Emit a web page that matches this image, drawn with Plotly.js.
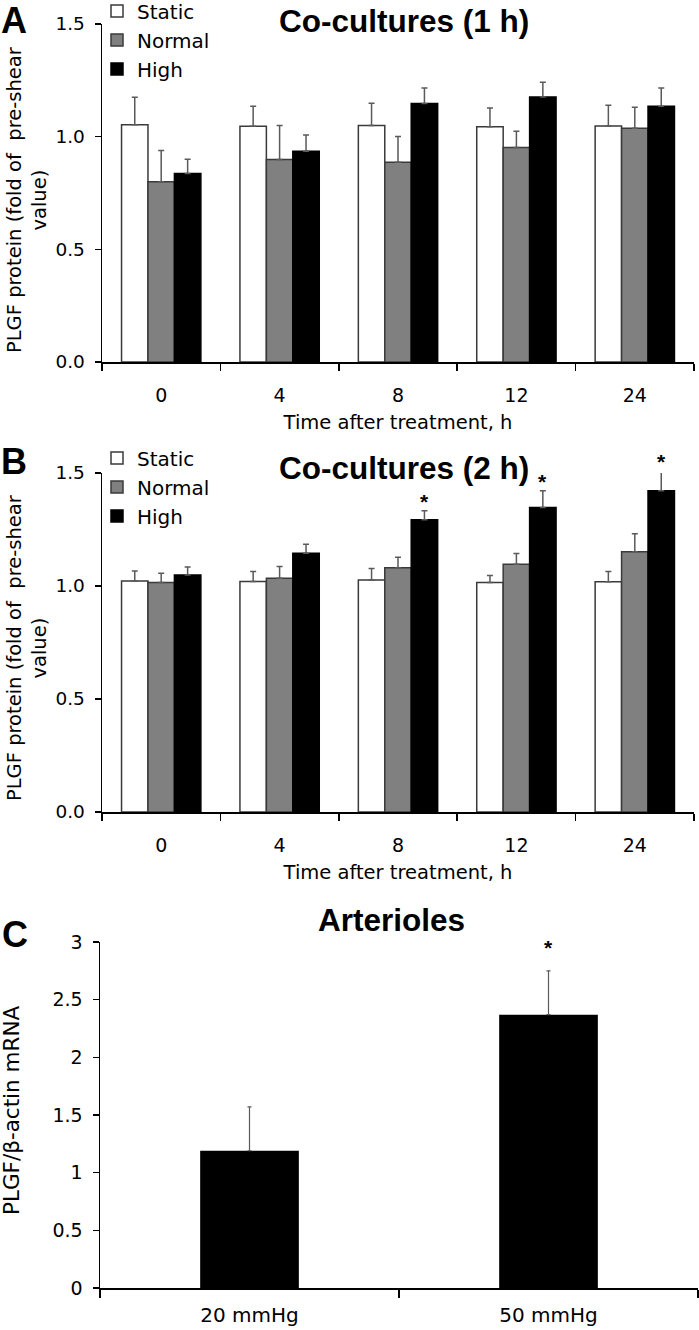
<!DOCTYPE html>
<html>
<head>
<meta charset="utf-8">
<script src="https://cdn.plot.ly/plotly-3.0.1.min.js"></script>
<style>html,body{margin:0;padding:0;background:#fff;}#chart{width:699px;height:1330px;}</style>
</head>
<body>
<div id="chart"></div>
<script>
// ---------- DATA ----------
const seriesNames = ['Static', 'Normal', 'High'];
const timeLabels = ['0', '4', '8', '12', '24'];

// Panel A: Co-cultures (1 h)
const a_static = [1.053, 1.046, 1.050, 1.044, 1.047];
const a_static_err = [0.122, 0.089, 0.098, 0.083, 0.092];
const a_normal = [0.800, 0.899, 0.887, 0.952, 1.037];
const a_normal_err = [0.139, 0.151, 0.114, 0.072, 0.093];
const a_high = [0.837, 0.935, 1.147, 1.176, 1.135];
const a_high_err = [0.063, 0.072, 0.069, 0.065, 0.081];

// Panel B: Co-cultures (2 h)
const b_static = [1.022, 1.020, 1.026, 1.016, 1.019];
const b_static_err = [0.044, 0.044, 0.051, 0.030, 0.045];
const b_normal = [1.015, 1.034, 1.081, 1.096, 1.151];
const b_normal_err = [0.041, 0.052, 0.046, 0.048, 0.080];
const b_high = [1.049, 1.145, 1.293, 1.347, 1.422];
const b_high_err = [0.035, 0.040, 0.040, 0.074, 0.085];
const b_high_sig = [false, false, true, true, true];

// Panel C: Arterioles
const pressureLabels = ['20 mmHg', '50 mmHg'];
const c_values = [1.19, 2.37];
const c_err = [0.38, 0.38];
const c_sig = [false, true];

// Text
const yTitleAB = 'PLGF protein (fold of\u00a0 pre-shear<br>value)';
const yTitleC = 'PLGF/\u03b2-actin mRNA';
const xTitleAB = 'Time after treatment, h';

// ---------- STYLE ----------
const FONT = 'DejaVu Sans, Verdana, sans-serif';
const BOLD = 'Liberation Sans, Arial, sans-serif';
const fills = ['#ffffff', '#808080', '#000000'];
const outlines = ['#3a3a3a', '#3a3a3a', '#000000'];
const errColor = '#5a5a5a';
const bargapAB = 0.33;
const rangeAB = [0, 1.5];
const rangeC = [0, 3];

function zeros(arr) { return arr.map(() => 0); }

function barTrace(name, i, x, y, err, xa, ya, legendId) {
  return {
    type: 'bar', name: name, x: x, y: y,
    xaxis: xa, yaxis: ya, legend: legendId, showlegend: true,
    marker: { color: fills[i], line: { color: outlines[i], width: 1.5 } },
    error_y: { type: 'data', symmetric: false, array: err, arrayminus: zeros(err),
               color: errColor, thickness: 1.5, width: 3 },
    cliponaxis: false, hoverinfo: 'skip'
  };
}

const traces = [
  barTrace(seriesNames[0], 0, timeLabels, a_static, a_static_err, 'x', 'y', 'legend'),
  barTrace(seriesNames[1], 1, timeLabels, a_normal, a_normal_err, 'x', 'y', 'legend'),
  barTrace(seriesNames[2], 2, timeLabels, a_high, a_high_err, 'x', 'y', 'legend'),
  barTrace(seriesNames[0], 0, timeLabels, b_static, b_static_err, 'x2', 'y2', 'legend2'),
  barTrace(seriesNames[1], 1, timeLabels, b_normal, b_normal_err, 'x2', 'y2', 'legend2'),
  barTrace(seriesNames[2], 2, timeLabels, b_high, b_high_err, 'x2', 'y2', 'legend2'),
  {
    type: 'bar', x: pressureLabels, y: c_values, xaxis: 'x3', yaxis: 'y3',
    width: 0.33, showlegend: false,
    marker: { color: '#000000', line: { width: 0 } },
    error_y: { type: 'data', symmetric: false, array: c_err, arrayminus: zeros(c_err),
               color: errColor, thickness: 1.2, width: 2 },
    cliponaxis: false, hoverinfo: 'skip'
  }
];

// ---------- LAYOUT ----------
const W = 699, H = 1330;
const px = v => v / W;
const py = v => 1 - v / H;

function yAxis(domTop, domBot, range, dtick, fmt, anchor, tickSize) {
  return {
    domain: [py(domBot), py(domTop)], range: range, dtick: dtick, tick0: 0,
    tickformat: fmt, showgrid: false, zeroline: false,
    showline: true, linecolor: '#000', linewidth: 1.5,
    ticks: 'outside', ticklen: 6, tickwidth: 1.5, tickcolor: '#000',
    ticklabelstandoff: 6, tickfont: { family: FONT, size: tickSize, color: '#000' }, anchor: anchor,
    fixedrange: true
  };
}
function xAxis(domL, domR, titleText, anchor, ticklen, tickSize, labelStandoff) {
  return {
    domain: [px(domL), px(domR)], type: 'category',
    showgrid: false, zeroline: false, showline: true, linecolor: '#000', linewidth: 1.5,
    ticks: 'outside', tickson: 'boundaries', ticklen: ticklen, tickwidth: 1.5, tickcolor: '#000',
    ticklabelstandoff: labelStandoff, tickfont: { family: FONT, size: tickSize, color: '#000' }, anchor: anchor,
    title: titleText ? { text: titleText, font: { family: FONT, size: 19.5, color: '#000' }, standoff: 10 } : undefined,
    fixedrange: true
  };
}

const annotations = [];
function addText(text, xPix, yPix, size, bold, angle) {
  annotations.push({
    xref: 'paper', yref: 'paper', x: px(xPix), y: py(yPix),
    xanchor: 'center', yanchor: 'middle', showarrow: false, textangle: angle || 0,
    text: bold ? '<b>' + text + '</b>' : text,
    font: { family: bold ? BOLD : FONT, size: size, color: '#000' }
  });
}
addText('A', 14, 20, 36, true);
addText('B', 14, 462, 36, true);
addText('C', 15, 934, 36, true);
addText('Co-cultures (1 h)', 404, 21, 31.5, true);
addText('Co-cultures (2 h)', 404, 468, 31.5, true);
addText('Arterioles', 391, 920, 31.5, true);
// y-axis titles (rotated)
addText(yTitleAB, 27, 200, 19.5, false, -90);
addText(yTitleAB, 27, 648, 19.5, false, -90);
addText(yTitleC, 11, 1110, 21.5, false, -90);

// significance asterisks placed from data (in axis-domain fraction so they can sit above the range)
const highOffset = (1 - bargapAB) / 3;
b_high_sig.forEach((s, i) => {
  if (s) annotations.push({
    xref: 'x2', yref: 'y2 domain', x: i + highOffset,
    y: (b_high[i] + b_high_err[i] - rangeAB[0]) / (rangeAB[1] - rangeAB[0]),
    xanchor: 'center', yanchor: 'bottom', yshift: -4, showarrow: false,
    text: '<b>*</b>', font: { family: BOLD, size: 21, color: '#000' }
  });
});
c_sig.forEach((s, i) => {
  if (s) annotations.push({
    xref: 'x3', yref: 'y3 domain', x: i,
    y: (c_values[i] + c_err[i] - rangeC[0]) / (rangeC[1] - rangeC[0]),
    xanchor: 'center', yanchor: 'bottom', yshift: 10, showarrow: false,
    text: '<b>*</b>', font: { family: BOLD, size: 21, color: '#000' }
  });
});

const legendBase = {
  xref: 'container', yref: 'container',
  xanchor: 'left', yanchor: 'middle', bgcolor: 'rgba(0,0,0,0)', borderwidth: 0,
  font: { family: FONT, size: 20, color: '#000' }, traceorder: 'normal',
  itemwidth: 30, tracegroupgap: 0
};

const layout = {
  width: W, height: H, margin: { l: 0, r: 0, t: 0, b: 0, autoexpand: false },
  paper_bgcolor: '#fff', plot_bgcolor: '#fff',
  barmode: 'group', bargap: bargapAB, bargroupgap: 0,
  showlegend: true,
  legend: Object.assign({}, legendBase, { x: px(97), y: py(40) }),
  legend2: Object.assign({}, legendBase, { x: px(97), y: py(487) }),
  xaxis: xAxis(102, 694, xTitleAB, 'y', 7, 19, 16),
  yaxis: yAxis(24, 362, rangeAB, 0.5, '.1f', 'x', 18.5),
  xaxis2: xAxis(102, 694, xTitleAB, 'y2', 7, 19, 16),
  yaxis2: yAxis(473, 812, rangeAB, 0.5, '.1f', 'x2', 18.5),
  xaxis3: xAxis(100, 698, '', 'y3', 8, 20, 8),
  yaxis3: yAxis(942, 1288, rangeC, 0.5, '', 'x3', 19),
  annotations: annotations
};

Plotly.newPlot('chart', traces, layout, { staticPlot: true, displayModeBar: false });
</script>
</body>
</html>
